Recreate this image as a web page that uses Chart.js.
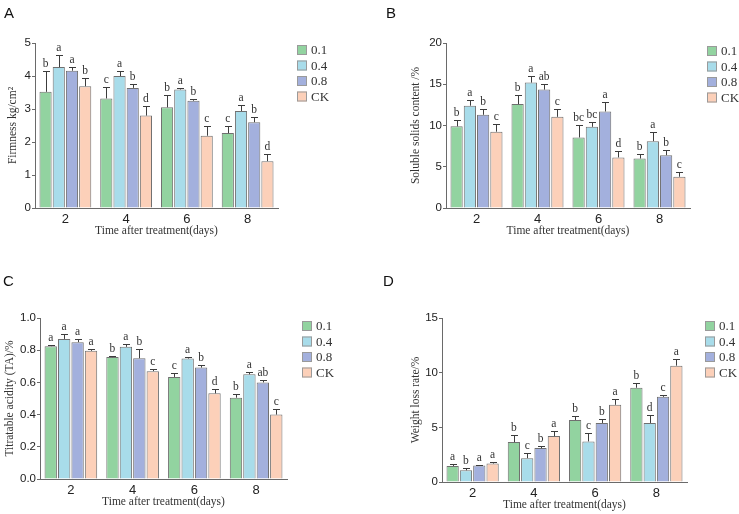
<!DOCTYPE html>
<html>
<head>
<meta charset="utf-8">
<script src="https://cdn.jsdelivr.net/npm/chart.js@4.4.0/dist/chart.umd.min.js"></script>
<style>
  html, body { margin: 0; padding: 0; background: #fff; }
  #wrap { position: relative; width: 739px; height: 514px; overflow: hidden; }
  canvas { position: absolute; }
  .tag { position: absolute; font-family: "Liberation Sans", Arial, sans-serif; font-size: 15px; color: #111; line-height: 15px; }
</style>
</head>
<body>
<div id="wrap">
  <canvas id="chartA" width="370" height="250" style="left:0;top:0"></canvas>
  <canvas id="chartB" width="369" height="250" style="left:370px;top:0"></canvas>
  <canvas id="chartC" width="370" height="264" style="left:0;top:250px"></canvas>
  <canvas id="chartD" width="369" height="264" style="left:370px;top:250px"></canvas>
  <div class="tag" style="left:4px;top:5px">A</div>
  <div class="tag" style="left:386px;top:5px">B</div>
  <div class="tag" style="left:3px;top:273px">C</div>
  <div class="tag" style="left:383px;top:273px">D</div>
</div>
<script>
// categories and series
const days = ['2', '4', '6', '8'];
const treatments = ['0.1', '0.4', '0.8', 'CK'];
const treatmentColors = ['#92d3a0', '#a8dcea', '#a3b0dd', '#fcd0b9'];

// A - firmness, one row per treatment (0.1, 0.4, 0.8, CK)
const firmnessMean = [
  [3.52, 3.32, 3.05, 2.27],
  [4.27, 4.00, 3.59, 2.94],
  [4.16, 3.64, 3.25, 2.60],
  [3.69, 2.80, 2.19, 1.42]
];
const firmnessErr = [
  [0.62, 0.34, 0.36, 0.23],
  [0.36, 0.15, 0.06, 0.19],
  [0.10, 0.12, 0.06, 0.16],
  [0.25, 0.30, 0.31, 0.21]
];
const firmnessLetters = [
  ['b', 'c', 'b', 'c'],
  ['a', 'a', 'a', 'a'],
  ['a', 'b', 'b', 'b'],
  ['b', 'd', 'c', 'd']
];

// B - soluble solids content
const solidsMean = [
  [9.9, 12.6, 8.55, 6.0],
  [12.4, 15.2, 9.84, 8.1],
  [11.3, 14.35, 11.7, 6.4],
  [9.25, 11.05, 6.13, 3.79]
];
const solidsErr = [
  [0.8, 1.1, 1.55, 0.6],
  [0.7, 0.85, 0.6, 1.13],
  [0.7, 0.65, 1.16, 0.58],
  [0.9, 1.0, 0.8, 0.52]
];
const solidsLetters = [
  ['b', 'b', 'bc', 'b'],
  ['a', 'a', 'bc', 'a'],
  ['b', 'ab', 'a', 'b'],
  ['c', 'c', 'd', 'c']
];

// C - titratable acidity
const acidityMean = [
  [0.825, 0.757, 0.634, 0.505],
  [0.87, 0.821, 0.748, 0.65],
  [0.85, 0.75, 0.692, 0.60],
  [0.796, 0.67, 0.532, 0.40]
];
const acidityErr = [
  [0.009, 0.006, 0.022, 0.021],
  [0.03, 0.017, 0.007, 0.015],
  [0.018, 0.06, 0.015, 0.015],
  [0.01, 0.016, 0.029, 0.032]
];
const acidityLetters = [
  ['a', 'b', 'c', 'b'],
  ['a', 'a', 'a', 'a'],
  ['a', 'b', 'b', 'ab'],
  ['a', 'c', 'd', 'c']
];

// D - weight loss rate
const weightLossMean = [
  [1.47, 3.65, 5.67, 8.62],
  [1.07, 2.18, 3.71, 5.40],
  [1.50, 3.10, 5.40, 7.79],
  [1.69, 4.20, 7.06, 10.64]
];
const weightLossErr = [
  [0.19, 0.61, 0.33, 0.46],
  [0.22, 0.46, 0.74, 0.73],
  [0.10, 0.18, 0.34, 0.21],
  [0.18, 0.46, 0.52, 0.59]
];
const weightLossLetters = [
  ['a', 'b', 'b', 'b'],
  ['b', 'c', 'c', 'd'],
  ['a', 'b', 'b', 'c'],
  ['a', 'a', 'a', 'a']
];

const sansFont = '"Liberation Sans", Arial, sans-serif';
const serifFont = '"Liberation Serif", "Times New Roman", serif';

// draws the upward error bar and significance letter over every bar
const errorBarPlugin = {
  id: 'errorBars',
  afterDatasetsDraw(chart) {
    const ctx = chart.ctx;
    const yScale = chart.scales.y;
    chart.data.datasets.forEach((ds, i) => {
      const meta = chart.getDatasetMeta(i);
      meta.data.forEach((bar, j) => {
        const top = yScale.getPixelForValue(ds.data[j] + ds.errors[j]);
        const x = Math.round(bar.x) + 0.5;
        const yTop = Math.round(top) + 0.5;
        ctx.save();
        ctx.strokeStyle = '#3c3c3c';
        ctx.lineWidth = 1;
        ctx.beginPath();
        ctx.moveTo(x, bar.y);
        ctx.lineTo(x, yTop);
        ctx.moveTo(x - 3.5, yTop);
        ctx.lineTo(x + 3.5, yTop);
        ctx.stroke();
        ctx.fillStyle = '#333';
        ctx.font = '11.5px ' + serifFont;
        ctx.textAlign = 'center';
        ctx.textBaseline = 'bottom';
        ctx.fillText(ds.letters[j], bar.x, yTop - 2);
        ctx.restore();
      });
    });
  }
};

// square swatch legend to the right of the plot
const sideLegendPlugin = {
  id: 'sideLegend',
  afterDraw(chart, args, opts) {
    const ctx = chart.ctx;
    const area = chart.chartArea;
    const x0 = area.right + opts.dx;
    ctx.save();
    chart.data.datasets.forEach((ds, i) => {
      const cy = area.top + opts.dy + i * 15.5;
      ctx.fillStyle = ds.backgroundColor;
      ctx.fillRect(x0, cy - 5, 10, 10);
      ctx.strokeStyle = '#9a9a9a';
      ctx.lineWidth = 1;
      ctx.strokeRect(x0 + 0.5, cy - 4.5, 9, 9);
      ctx.fillStyle = '#333';
      ctx.font = '13px ' + serifFont;
      ctx.textAlign = 'left';
      ctx.textBaseline = 'middle';
      ctx.fillText(ds.label, x0 + 14, cy + 1);
    });
    ctx.restore();
  }
};

function makePanel(id, p) {
  const canvas = document.getElementById(id);
  const datasets = treatments.map((name, i) => ({
    label: name,
    data: p.mean[i],
    errors: p.err[i],
    letters: p.letters[i],
    backgroundColor: treatmentColors[i],
    borderColor: '#707070',
    borderWidth: 1,
    categoryPercentage: 0.87,
    barPercentage: 0.92
  }));

  return new Chart(canvas.getContext('2d'), {
    type: 'bar',
    data: { labels: days, datasets: datasets },
    plugins: [errorBarPlugin, sideLegendPlugin],
    options: {
      responsive: false,
      animation: false,
      layout: {
        padding: { left: 0, top: p.top, right: canvas.width - p.right, bottom: 0 }
      },
      plugins: {
        legend: { display: false },
        tooltip: { enabled: false },
        sideLegend: { dx: p.legendDx, dy: p.legendDy }
      },
      scales: {
        x: {
          grid: { display: true, drawOnChartArea: false, drawTicks: false },
          border: { color: '#6a6a6a', width: 1 },
          ticks: { color: '#222', padding: 4, font: { family: sansFont, size: 13 } },
          title: {
            display: true,
            text: 'Time after treatment(days)',
            color: '#333',
            font: { family: serifFont, size: 11.5 },
            padding: { top: 0, bottom: p.xTitlePad }
          },
          afterFit(scale) { scale.height = canvas.height - p.bottom; }
        },
        y: {
          min: 0,
          max: p.max,
          ticks: {
            stepSize: p.step,
            color: '#222',
            padding: 1,
            font: { family: sansFont, size: 11.5 },
            callback: p.format
          },
          grid: { display: true, drawOnChartArea: false, drawTicks: true, tickLength: 3, tickColor: '#6a6a6a' },
          border: { color: '#6a6a6a', width: 1 },
          title: {
            display: true,
            text: p.yTitle,
            color: '#333',
            font: { family: serifFont, size: p.yTitleSize },
            padding: { top: p.yTitlePad, bottom: 0 }
          },
          afterFit(scale) { scale.width = p.left; }
        }
      }
    }
  });
}

makePanel('chartA', {
  mean: firmnessMean, err: firmnessErr, letters: firmnessLetters,
  max: 5, step: 1, format: v => v,
  yTitle: 'Firmness kg/cm²', yTitleSize: 11.5, yTitlePad: 6,
  left: 35, right: 278, top: 43, bottom: 208,
  xTitlePad: 12, legendDx: 19, legendDy: 7
});

makePanel('chartB', {
  mean: solidsMean, err: solidsErr, letters: solidsLetters,
  max: 20, step: 5, format: v => v,
  yTitle: 'Soluble solids content /%', yTitleSize: 11.5, yTitlePad: 39,
  left: 76, right: 320, top: 43, bottom: 208,
  xTitlePad: 12, legendDx: 17, legendDy: 8
});

makePanel('chartC', {
  mean: acidityMean, err: acidityErr, letters: acidityLetters,
  max: 1, step: 0.2, format: v => v.toFixed(1),
  yTitle: 'Titratable acidity (TA)/%', yTitleSize: 11.5, yTitlePad: 3,
  left: 40, right: 287, top: 68, bottom: 229,
  xTitlePad: 5, legendDx: 15, legendDy: 8
});

makePanel('chartD', {
  mean: weightLossMean, err: weightLossErr, letters: weightLossLetters,
  max: 15, step: 5, format: v => v,
  yTitle: 'Weight loss rate/%', yTitleSize: 11.5, yTitlePad: 39,
  left: 72, right: 317, top: 68, bottom: 232,
  xTitlePad: 2, legendDx: 18, legendDy: 8
});
</script>
</body>
</html>
